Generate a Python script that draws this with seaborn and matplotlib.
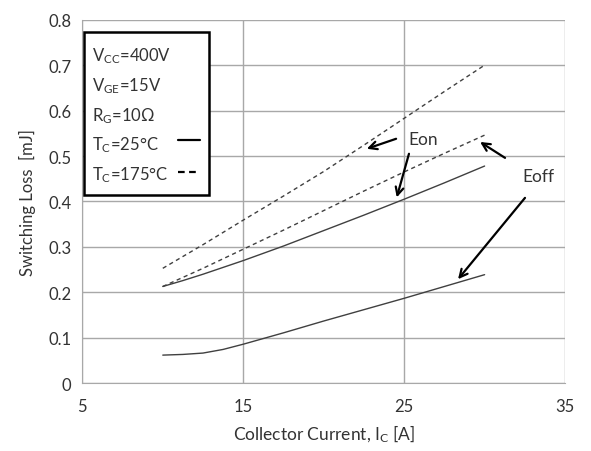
import matplotlib
matplotlib.use("Agg")
import matplotlib.pyplot as plt
import seaborn as sns
import pandas as pd
from matplotlib.patches import Rectangle

# data
ic = [10, 11.25, 12.5, 13.75, 15, 17.5, 20, 22.5, 25, 27.5, 30]
eon_25 = [0.213, 0.226, 0.24, 0.255, 0.27, 0.302, 0.336, 0.37, 0.405, 0.441, 0.478]
eon_175 = [0.253, 0.279, 0.305, 0.332, 0.359, 0.412, 0.466, 0.524, 0.583, 0.642, 0.70]
eoff_25 = [0.062, 0.0635, 0.0665, 0.0745, 0.086, 0.111, 0.137, 0.162, 0.187, 0.213, 0.239]
eoff_175 = [0.213, 0.233, 0.253, 0.274, 0.295, 0.337, 0.38, 0.423, 0.465, 0.506, 0.546]
x_ticks = [5, 15, 25, 35]
y_ticks = [0, 0.1, 0.2, 0.3, 0.4, 0.5, 0.6, 0.7, 0.8]
y_tick_labels = ['0', '0.1', '0.2', '0.3', '0.4', '0.5', '0.6', '0.7', '0.8']

sns.set_style("white")
plt.rcParams['font.family'] = ['Lato', 'DejaVu Sans']
plt.rcParams['mathtext.fontset'] = 'custom'
plt.rcParams['mathtext.rm'] = 'Lato'
plt.rcParams['mathtext.it'] = 'Lato'

df = pd.DataFrame({'Ic': ic, 'eon25': eon_25, 'eon175': eon_175,
                   'eoff25': eoff_25, 'eoff175': eoff_175})

fig = plt.figure(figsize=(5.91, 4.52), dpi=100)
ax = fig.add_axes([0.1393, 0.1498, 0.8168, 0.8044])

line_col = '#404040'
dash = (0, (3, 2.5))
sns.lineplot(data=df, x='Ic', y='eon25', ax=ax, color=line_col, lw=1.0)
sns.lineplot(data=df, x='Ic', y='eoff25', ax=ax, color=line_col, lw=1.0)
sns.lineplot(data=df, x='Ic', y='eon175', ax=ax, color=line_col, lw=1.0, linestyle=dash)
sns.lineplot(data=df, x='Ic', y='eoff175', ax=ax, color=line_col, lw=1.0, linestyle=dash)

ax.set_xlim(5, 35)
ax.set_ylim(0, 0.8)
ax.set_xticks(x_ticks)
ax.set_yticks(y_ticks)
ax.set_yticklabels(y_tick_labels)
ax.grid(True, color='#a8a8a8', lw=1.0)
ax.set_axisbelow(True)
for s in ['top', 'right']:
    ax.spines[s].set_visible(False)
for s in ['left', 'bottom']:
    ax.spines[s].set_color('#a8a8a8')
ax.tick_params(axis='both', which='both', length=5.8, width=1.0, color='#a8a8a8',
               labelsize=12, labelcolor='#333333', direction='out', pad=2)
ax.tick_params(axis='x', pad=5)
ax.set_xlabel(r'Collector Current, I$_{\mathrm{C}}$ [A]', fontsize=12.5, color='#333333', labelpad=6)
ax.set_ylabel('Switching Loss  [mJ]', fontsize=12, color='#333333', labelpad=9)

# legend box
ax.add_patch(Rectangle((0.004, 0.518), 0.2585, 0.4475, transform=ax.transAxes,
                       fill=True, facecolor='white', edgecolor='black', lw=1.8, zorder=5))
labels = [r'V$_{\mathrm{CC}}$=400V', r'V$_{\mathrm{GE}}$=15V', r'R$_{\mathrm{G}}$=10Ω',
          r'T$_{\mathrm{C}}$=25°C', r'T$_{\mathrm{C}}$=175°C']
ys = [0.889, 0.807, 0.724, 0.644, 0.561]
for lab, yy in zip(labels, ys):
    ax.text(0.0195, yy, lab, transform=ax.transAxes, fontsize=12, color='#333333',
            va='baseline', ha='left', zorder=6)
ax.plot([0.199, 0.244], [0.670, 0.670], transform=ax.transAxes, color='black', lw=1.6, zorder=6)
ax.plot([0.199, 0.244], [0.582, 0.582], transform=ax.transAxes, color='black', lw=1.6,
        linestyle=(0, (3, 2)), zorder=6)

# annotations
arr = dict(arrowstyle='->', color='black', lw=1.6, mutation_scale=14, shrinkA=0, shrinkB=0)
ax.annotate('', xy=(22.68, 0.516), xytext=(24.5, 0.538), arrowprops=arr)
ax.text(25.24, 0.5375, 'Eon', fontsize=12.5, color='#333333', va='center', ha='left')
ax.annotate('', xy=(24.54, 0.409), xytext=(25.3, 0.505), arrowprops=arr)
ax.annotate('', xy=(29.72, 0.531), xytext=(31.27, 0.496), arrowprops=arr)
ax.text(32.33, 0.456, 'Eoff', fontsize=12.5, color='#333333', va='center', ha='left')
ax.annotate('', xy=(28.35, 0.229), xytext=(32.51, 0.408), arrowprops=arr)

fig.savefig('out.png', dpi=100)
